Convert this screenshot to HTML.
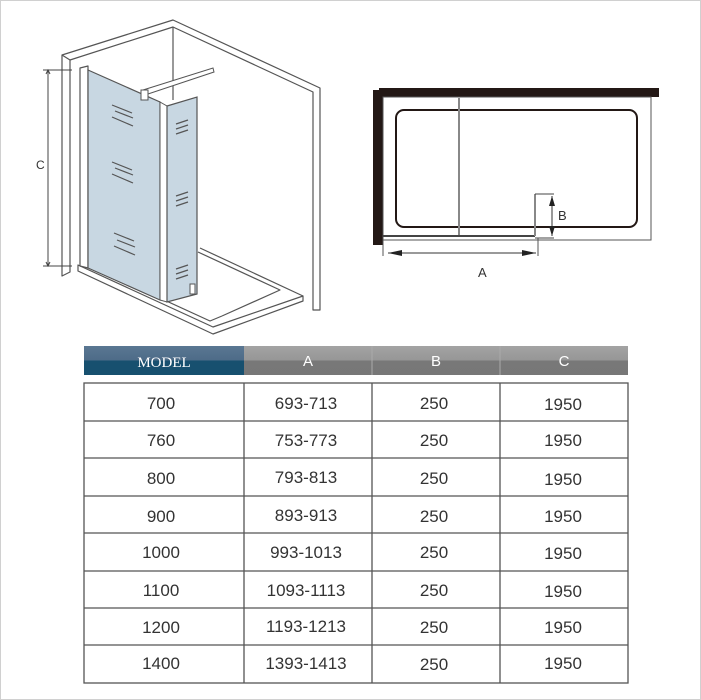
<!DOCTYPE html>
<html><head><meta charset="utf-8"><style>
html,body{margin:0;padding:0;background:#fff}
svg{display:block}
text{font-family:"Liberation Sans",sans-serif;fill:#333}
</style></head><body>
<svg width="701" height="700" viewBox="0 0 701 700" xmlns="http://www.w3.org/2000/svg">
<rect x="0.5" y="0.5" width="700" height="699" fill="#fff" stroke="#d0d0d0"/>
<g fill="none" stroke="#555" stroke-width="1.2" stroke-linejoin="round">
  <polygon points="78,265 213,327 303,296 303,301 213,334 78,271" fill="#fff"/>
  <polyline points="90,266 210,321 222,316"/>
  <polyline points="198,252 280,290 222,316"/>
  <line x1="200" y1="248" x2="303" y2="296"/>
  <polygon points="62,55 173,20 320,88 320,310 313,310 313,92 173,27 70,60 70,272 62,276" fill="#fff"/>
  <line x1="173" y1="27" x2="173" y2="100"/>
  <line x1="62" y1="55" x2="70" y2="60"/>
  <polygon points="80,68 88,66 88,268 80,266" fill="#fff"/>
</g>
<polygon points="88,70 160,102 160,300 88,268" fill="#c8d7e2" stroke="#555" stroke-width="1.2"/>
<polygon points="160,102 167,106 167,302 160,300" fill="#fff" stroke="#555" stroke-width="1"/>
<polygon points="167,106 197,97 197,294 167,302" fill="#c8d7e2" stroke="#555" stroke-width="1.2"/>
<rect x="190" y="284" width="5" height="10" fill="#fff" stroke="#555"/>
<polygon points="143,90 213,68 214,72 145,95" fill="#fff" stroke="#555"/>
<rect x="141" y="90" width="7" height="10" fill="#fff" stroke="#555"/>
<g stroke="#555" stroke-width="1.2">
  <line x1="112" y1="105" x2="132" y2="113"/><line x1="115" y1="111" x2="133" y2="118"/><line x1="112" y1="117" x2="133" y2="126"/>
  <line x1="112" y1="162" x2="132" y2="170"/><line x1="115" y1="168" x2="133" y2="175"/><line x1="112" y1="174" x2="133" y2="183"/>
  <line x1="114" y1="233" x2="134" y2="241"/><line x1="117" y1="240" x2="135" y2="247"/><line x1="114" y1="246" x2="135" y2="255"/>
  <line x1="176" y1="124" x2="188" y2="120"/><line x1="176" y1="129" x2="188" y2="125"/><line x1="176" y1="134" x2="188" y2="130"/>
  <line x1="176" y1="196" x2="188" y2="192"/><line x1="176" y1="201" x2="188" y2="197"/><line x1="176" y1="206" x2="188" y2="202"/>
  <line x1="176" y1="269" x2="188" y2="265"/><line x1="176" y1="274" x2="188" y2="270"/><line x1="176" y1="279" x2="188" y2="275"/>
</g>
<g stroke="#444" stroke-width="1">
  <line x1="43" y1="70" x2="72" y2="70"/><line x1="43" y1="266" x2="72" y2="266"/>
  <line x1="48" y1="70" x2="48" y2="266"/>
  <polyline points="46,74 48,70 50,74" fill="none"/><polyline points="46,262 48,266 50,262" fill="none"/>
</g>
<text x="36" y="169" font-size="12">C</text>
<rect x="379" y="88" width="280" height="9" fill="#231815"/>
<rect x="373" y="90" width="10" height="155" fill="#231815"/>
<rect x="383" y="97" width="268" height="143" fill="none" stroke="#555" stroke-width="1"/>
<rect x="396" y="110" width="241" height="117" rx="8" fill="none" stroke="#231815" stroke-width="2"/>
<line x1="459" y1="98" x2="459" y2="237" stroke="#888" stroke-width="2"/>
<line x1="383" y1="236" x2="535" y2="236" stroke="#444" stroke-width="2"/>
<line x1="535" y1="194" x2="535" y2="236" stroke="#888" stroke-width="2"/>
<line x1="535" y1="194" x2="554" y2="194" stroke="#444"/>
<line x1="535" y1="238" x2="554" y2="238" stroke="#444"/>
<line x1="552" y1="196" x2="552" y2="236" stroke="#333"/>
<polygon points="552,196 549,206 555,206" fill="#222"/><polygon points="552,236 549,226 555,226" fill="#222"/>
<line x1="383" y1="240" x2="383" y2="256" stroke="#555"/><line x1="538" y1="238" x2="538" y2="256" stroke="#555"/>
<line x1="388" y1="253" x2="536" y2="253" stroke="#333"/>
<polygon points="388,253 402,250 402,256" fill="#222"/><polygon points="536,253 522,250 522,256" fill="#222"/>
<text x="558" y="220" font-size="13">B</text>
<text x="478" y="277" font-size="13">A</text>
<defs>
<linearGradient id="gb" x1="0" y1="0" x2="0" y2="1"><stop offset="0" stop-color="#5a7792"/><stop offset="0.5" stop-color="#4d6b88"/><stop offset="0.5" stop-color="#17506f"/><stop offset="1" stop-color="#17506f"/></linearGradient>
<linearGradient id="gg" x1="0" y1="0" x2="0" y2="1"><stop offset="0" stop-color="#a3a3a3"/><stop offset="0.5" stop-color="#969696"/><stop offset="0.5" stop-color="#787878"/><stop offset="1" stop-color="#777"/></linearGradient>
</defs>
<rect x="84" y="346" width="160" height="29" fill="url(#gb)"/>
<rect x="244" y="346" width="384" height="29" fill="url(#gg)"/>
<g stroke="#aaa" stroke-width="1"><line x1="372" y1="346" x2="372" y2="375"/><line x1="500" y1="346" x2="500" y2="375"/></g>
<text x="164" y="367" font-size="15" text-anchor="middle" style="font-family:'Liberation Serif',serif;fill:#fff">MODEL</text>
<g font-size="15" text-anchor="middle">
<text x="308" y="366" style="fill:#fff">A</text><text x="436" y="366" style="fill:#fff">B</text><text x="564" y="366" style="fill:#fff">C</text>
</g>
<g fill="none" stroke="#555" stroke-width="1.3">
<rect x="84" y="383" width="544" height="300"/>
<line x1="244" y1="383" x2="244" y2="683"/><line x1="372" y1="383" x2="372" y2="683"/><line x1="500" y1="383" x2="500" y2="683"/>
<line x1="84" y1="421" x2="628" y2="421"/><line x1="84" y1="458" x2="628" y2="458"/><line x1="84" y1="496" x2="628" y2="496"/>
<line x1="84" y1="533" x2="628" y2="533"/><line x1="84" y1="571" x2="628" y2="571"/><line x1="84" y1="608" x2="628" y2="608"/><line x1="84" y1="645" x2="628" y2="645"/>
</g>
<g font-size="17" text-anchor="middle">
<text x="161" y="409">700</text><text x="306" y="409">693-713</text><text x="434" y="409">250</text><text x="563" y="410">1950</text>
<text x="161" y="446">760</text><text x="306" y="446">753-773</text><text x="434" y="446">250</text><text x="563" y="446">1950</text>
<text x="161" y="484">800</text><text x="306" y="483">793-813</text><text x="434" y="484">250</text><text x="563" y="485">1950</text>
<text x="161" y="522">900</text><text x="306" y="521">893-913</text><text x="434" y="522">250</text><text x="563" y="522">1950</text>
<text x="161" y="558">1000</text><text x="306" y="558">993-1013</text><text x="434" y="558">250</text><text x="563" y="559">1950</text>
<text x="161" y="596">1100</text><text x="306" y="596">1093-1113</text><text x="434" y="596">250</text><text x="563" y="597">1950</text>
<text x="161" y="633">1200</text><text x="306" y="632">1193-1213</text><text x="434" y="633">250</text><text x="563" y="633">1950</text>
<text x="161" y="669">1400</text><text x="306" y="669">1393-1413</text><text x="434" y="670">250</text><text x="563" y="669">1950</text>
</g>
</svg>
</body></html>
